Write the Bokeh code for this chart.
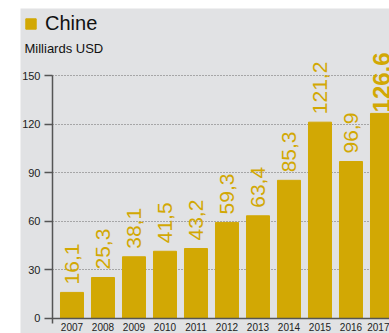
from bokeh.plotting import figure
from bokeh.models import (Range1d, FixedTicker, ColumnDataSource, Legend, LegendItem,
                          LabelSet, Label, BoxAnnotation)
from bokeh.core.properties import value
from bokeh.embed import file_html
from bokeh.resources import INLINE

years = [2007, 2008, 2009, 2010, 2011, 2012, 2013, 2014, 2015, 2016, 2017]
values = [16.1, 25.3, 38.1, 41.5, 43.2, 59.3, 63.4, 85.3, 121.2, 96.9, 126.6]
labels = ["16,1", "25,3", "38,1", "41,5", "43,2", "59,3", "63,4", "85,3", "121,2", "96,9", "126,6"]
y_ticks = [0, 30, 60, 90, 120, 150]
series_name = "Chine"
unit = "Milliards USD"

GOLD = "#d2a804"
BG = "#e1e2e4"
AX = "#555555"
FONT = "Liberation Sans"

# view window (data units)
X_START, X_END = 2005.339, 2017.242
AXIS_X = 2006.371
Y_START, Y_END = -9.26, 191.36

# the latest year's label is emphasised (bold, larger, closer to the bar)
last = years[-1]
src = ColumnDataSource(dict(
    x=years, top=values, lab=labels,
    fs=["24px" if y == last else "21px" for y in years],
    fst=["bold" if y == last else "normal" for y in years],
    yoff=[1 if y == last else 8 for y in years],
))

p = figure(width=389, height=333, output_backend="svg", toolbar_location=None,
           x_range=Range1d(X_START, X_END), y_range=Range1d(Y_START, Y_END),
           min_border_left=20, min_border_right=0, min_border_top=8, min_border_bottom=0)
p.background_fill_color = BG
p.border_fill_color = "white"
p.outline_line_color = None

r = p.vbar(x="x", top="top", width=0.742, source=src, color=GOLD)

p.add_layout(LabelSet(x="x", y="top", text="lab", source=src, angle=1.5708,
                      x_offset=0, y_offset="yoff", text_align="left", text_baseline="middle",
                      text_color=GOLD, text_font=value(FONT), text_font_size="fs",
                      text_font_style="fst"))

# y axis (drawn at a fixed location, takes no border space)
yax = p.yaxis[0]
yax.fixed_location = AXIS_X
yax.ticker = FixedTicker(ticks=y_ticks)
yax.bounds = (-3, 150)
yax.major_tick_out = 8
yax.major_tick_in = 0
yax.minor_tick_line_color = None
yax.axis_line_color = AX
yax.axis_line_width = 1.5
yax.major_tick_line_color = AX
yax.major_tick_line_width = 1.5
yax.major_label_standoff = 4
yax.major_label_text_font = FONT
yax.major_label_text_font_size = "11px"
yax.major_label_text_color = "#222222"

xax = p.xaxis[0]
xax.fixed_location = 0
xax.bounds = (AXIS_X, X_END)
xax.ticker = FixedTicker(ticks=years)
xax.major_label_overrides = {y: str(y) for y in years}
xax.major_tick_out = 0
xax.major_tick_in = 0
xax.minor_tick_line_color = None
xax.axis_line_color = AX
xax.axis_line_width = 1.5
xax.major_label_standoff = 5
xax.major_label_text_font = FONT
xax.major_label_text_font_size = "10px"
xax.major_label_text_color = "#222222"

p.xgrid.grid_line_color = None
g = p.ygrid[0]
g.ticker = FixedTicker(ticks=y_ticks[1:])
g.grid_line_color = "#6a6a6a"
g.grid_line_dash = "1 2"
g.grid_line_width = 1
try:
    g.cross_bounds = (AXIS_X, X_END)
except Exception:
    p.add_layout(BoxAnnotation(left=0, right=32, left_units="screen", right_units="screen",
                               fill_color=BG, fill_alpha=1, line_color=None, level="glyph"))

legend = Legend(items=[LegendItem(label=series_name, renderers=[r])], location=(4, 298),
                glyph_width=13, glyph_height=13, label_text_font=FONT,
                label_text_font_size="20px", label_text_color="#111111",
                background_fill_alpha=0, border_line_color=None, padding=0, margin=0,
                spacing=0, label_standoff=8)
p.add_layout(legend, "center")

p.add_layout(Label(x=4, y=285, x_units="screen", y_units="screen", text=unit,
                   text_font=FONT, text_font_size="13px", text_color="#111111",
                   text_baseline="alphabetic"))

open("out.html", "w").write(file_html(p, INLINE))
